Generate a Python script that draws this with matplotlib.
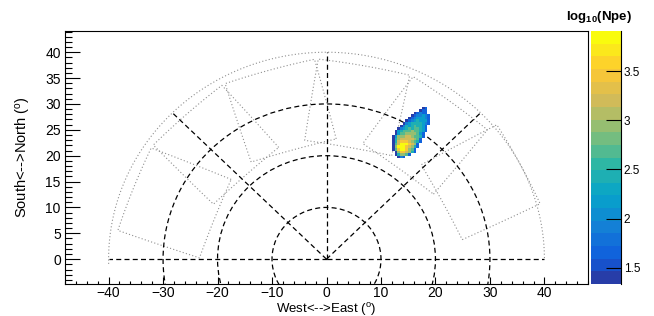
import numpy as np
import matplotlib
matplotlib.use("Agg")
import matplotlib.pyplot as plt
from matplotlib.colors import LinearSegmentedColormap, ListedColormap, BoundaryNorm
from matplotlib.cm import ScalarMappable
from matplotlib.patches import Circle
from matplotlib.ticker import MultipleLocator

plt.rcParams['font.family'] = ['Liberation Sans', 'DejaVu Sans']
plt.rcParams['mathtext.fontset'] = 'custom'
plt.rcParams['mathtext.rm'] = 'Liberation Sans'
plt.rcParams['mathtext.it'] = 'Liberation Sans:italic'
plt.rcParams['mathtext.bf'] = 'Liberation Sans:bold'

# telescope pointings (zenith, azimuth from East, deg) and half field of view
TEL_ZENITH = [30, 30, 30, 30, 30, 32]
TEL_AZIMUTH = [159, 132.5, 106, 79.5, 53, 27.5]
FOV_HALF = 8.0

# reference grid
RING_RADII = [10, 20, 30]
SPOKE_ANGLES = [0, 45, 90, 135, 180]
SPOKE_LEN = 40
OUTER_ARC_R = 40
OUTER_ARC_SPAN = [0.3, 181.3]

# event image: pixel centres and log10(Npe) codes ('.' = no signal)
PIX_X = [11.75, 12.25, 12.75, 13.25, 13.75, 14.25, 14.75, 15.25,
         15.75, 16.25, 16.75, 17.25, 17.75, 18.25, 18.75, 19.25]
PIX_Y = [29.25, 28.75, 28.25, 27.75, 27.25, 26.75, 26.25, 25.75, 25.25, 24.75,
         24.25, 23.75, 23.25, 22.75, 22.25, 21.75, 21.25, 20.75, 20.25, 19.75]
NPE_LEVELS = [1.45, 1.7, 1.95, 2.2, 2.45, 2.7, 2.95, 3.2, 3.5, 3.8]
NPE_ROWS = [
    "............01..",
    "...........011..",
    ".........01211..",
    "........0122321.",
    ".......01233321.",
    "......012343331.",
    ".....0234444321.",
    "....0243454431..",
    "...02345455431..",
    "..034555655431..",
    "..03556666531...",
    ".036667765541...",
    ".04677777651....",
    ".04788876541....",
    ".0579998761.....",
    ".0699987641.....",
    ".058998651......",
    "..06887641......",
    "..046651........",
    "...021..........",
]

Z_MIN, Z_MAX, N_CONT = 1.334, 3.907, 20
CB_TICKS = [1.5, 2, 2.5, 3, 3.5]

# ROOT kBird palette
stops = [0.0, 0.125, 0.25, 0.375, 0.5, 0.625, 0.75, 0.875, 1.0]
red = [0.2082, 0.0592, 0.0780, 0.0232, 0.1802, 0.5301, 0.8186, 0.9956, 0.9764]
green = [0.1664, 0.3599, 0.5041, 0.6419, 0.7178, 0.7492, 0.7328, 0.7862, 0.9832]
blue = [0.5293, 0.8684, 0.8385, 0.7914, 0.6425, 0.4662, 0.3499, 0.1968, 0.0539]
bird = LinearSegmentedColormap.from_list(
    'bird', list(zip(stops, zip(red, green, blue))), N=255)
band_cols = [bird(int((i + 0.99) * 255 / N_CONT) / 254) for i in range(N_CONT)]
cmap = ListedColormap(band_cols)
norm = BoundaryNorm(np.linspace(Z_MIN, Z_MAX, N_CONT + 1), N_CONT)


def fov_outline(zen, az, half, n=30):
    th, ph = np.radians(zen), np.radians(az)
    c = np.array([np.sin(th) * np.cos(ph), np.sin(th) * np.sin(ph), np.cos(th)])
    e_th = np.array([np.cos(th) * np.cos(ph), np.cos(th) * np.sin(ph), -np.sin(th)])
    e_ph = np.array([-np.sin(ph), np.cos(ph), 0.0])
    h = np.tan(np.radians(half))
    corners = [(-h, -h), (h, -h), (h, h), (-h, h), (-h, -h)]
    xs, ys = [], []
    for (a0, b0), (a1, b1) in zip(corners[:-1], corners[1:]):
        t = np.linspace(0, 1, n)
        a = a0 + (a1 - a0) * t
        b = b0 + (b1 - b0) * t
        d = c[None, :] + a[:, None] * e_th[None, :] + b[:, None] * e_ph[None, :]
        d /= np.linalg.norm(d, axis=1)[:, None]
        zen_d = np.degrees(np.arccos(d[:, 2]))
        az_d = np.arctan2(d[:, 1], d[:, 0])
        xs.append(zen_d * np.cos(az_d))
        ys.append(zen_d * np.sin(az_d))
    return np.concatenate(xs), np.concatenate(ys)


fig = plt.figure(figsize=(6.54, 3.16), dpi=100)
ax = fig.add_axes([65 / 654, 1 - 284 / 316, 523 / 654, 253 / 316])
cax = fig.add_axes([591 / 654, 1 - 284 / 316, 30 / 654, 253 / 316])

dot_kw = dict(color='#8f8f8f', lw=0.8, ls=(0, (1, 2)), zorder=2)
dash_kw = dict(color='black', lw=0.9, ls=(0, (4, 2.6)), zorder=3)

# telescope fields of view
for zen, az in zip(TEL_ZENITH, TEL_AZIMUTH):
    fx, fy = fov_outline(zen, az, FOV_HALF)
    ax.plot(fx, fy, **dot_kw)

arc = np.radians(np.linspace(OUTER_ARC_SPAN[0], OUTER_ARC_SPAN[1], 400))
ax.plot(OUTER_ARC_R * np.cos(arc), OUTER_ARC_R * np.sin(arc), **dot_kw)

# dashed rings and spokes
for r in RING_RADII:
    ax.add_patch(Circle((0, 0), r, fill=False, ec='black', lw=0.9,
                        ls=(0, (4, 2.6)), zorder=3))
for ang in SPOKE_ANGLES:
    a = np.radians(ang)
    ax.plot([0, SPOKE_LEN * np.cos(a)], [0, SPOKE_LEN * np.sin(a)], **dash_kw)

# event image
Z = np.array([[NPE_LEVELS[int(ch)] if ch != '.' else np.nan for ch in row]
              for row in NPE_ROWS])
ax.pcolormesh(PIX_X, PIX_Y, np.ma.masked_invalid(Z), cmap=cmap, norm=norm,
              shading='nearest', antialiased=False, zorder=5)

ax.set_xlim(-48, 48)
ax.set_ylim(-4.8, 44.1)
ax.xaxis.set_major_locator(MultipleLocator(10))
ax.xaxis.set_minor_locator(MultipleLocator(2))
ax.yaxis.set_major_locator(MultipleLocator(5))
ax.yaxis.set_minor_locator(MultipleLocator(1))
ax.tick_params(axis='both', which='both', direction='in', top=False,
               right=False, width=0.8, labelsize=10)
ax.tick_params(axis='x', which='major', length=5.0, pad=1.5)
ax.tick_params(axis='x', which='minor', length=2.5)
ax.tick_params(axis='y', which='major', length=10.8, pad=3)
ax.tick_params(axis='y', which='minor', length=5.0)
for sp in ax.spines.values():
    sp.set_linewidth(0.8)

ax.set_xlabel(r'West<-->East ($^{\rm o}$)', fontsize=9.5, va='center')
ax.xaxis.set_label_coords(0.5, -0.099)
ax.set_ylabel(r'South<-->North ($^{\rm o}$)', fontsize=10.5, labelpad=9)

cb = fig.colorbar(ScalarMappable(norm=norm, cmap=cmap), cax=cax, ticks=CB_TICKS)
cb.outline.set_visible(False)
cax.spines['right'].set_visible(True)
cax.spines['right'].set_linewidth(0.8)
cax.minorticks_off()
cb.set_ticklabels(['1.5', '2', '2.5', '3', '3.5'])
cax.tick_params(direction='in', length=11, width=0.8, labelsize=8.5, pad=2)

fig.text(599 / 654, 1 - 17 / 316, r'$\mathbf{log_{10}(Npe)}$',
         ha='center', va='center', fontsize=9.5)

fig.savefig('out.png', dpi=100)
